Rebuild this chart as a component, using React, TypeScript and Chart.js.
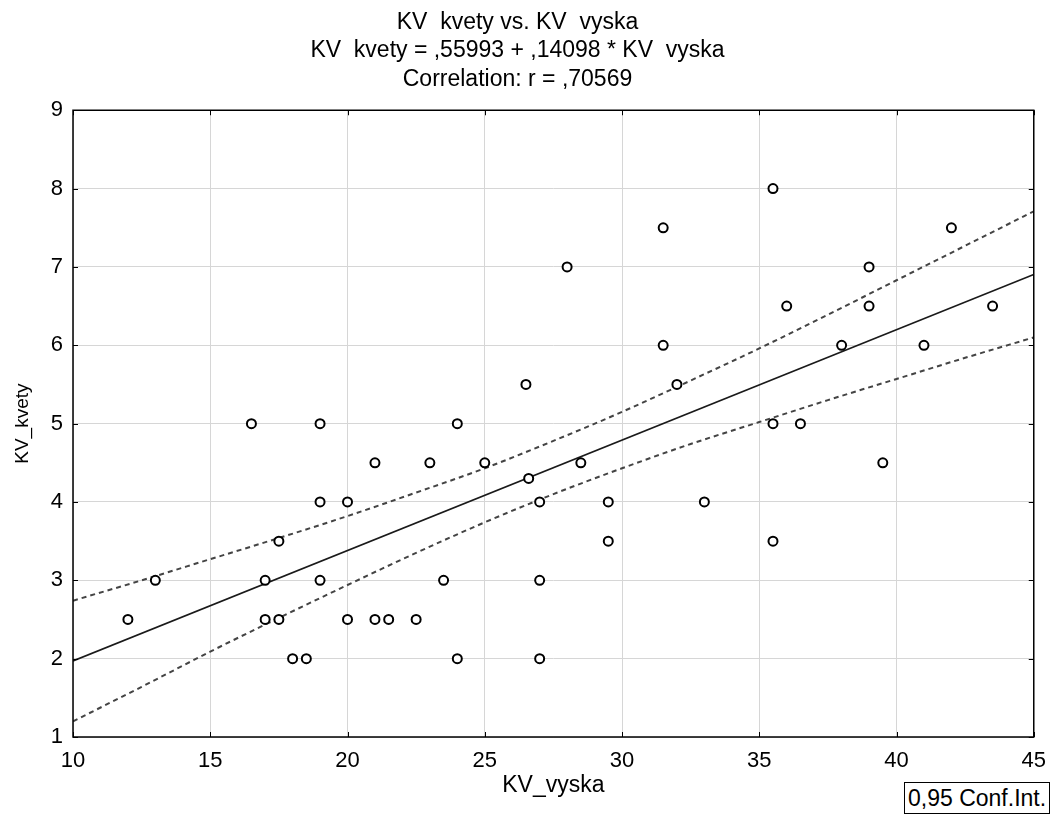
import React, { useEffect, useRef } from "react";
import { Chart, registerables } from "chart.js";

Chart.register(...registerables);

// Observations: KV_vyska (x) and KV_kvety (y)
const vyska = [
  12, 13, 16.5, 17, 17, 17.5, 17.5, 18, 18.5, 19, 19, 19, 20, 20, 21, 21, 21.5, 22.5,
  23, 23.5, 24, 24, 25, 26.5, 26.6, 27, 27, 27, 28, 28.5, 29.5, 29.5, 31.5, 31.5, 32,
  33, 35.5, 35.5, 35.5, 36, 36.5, 38, 39, 39, 39.5, 41, 42, 43.5,
];
const kvety = [
  2.5, 3, 5, 3, 2.5, 3.5, 2.5, 2, 2, 5, 4, 3, 4, 2.5, 4.5, 2.5, 2.5, 2.5,
  4.5, 3, 5, 2, 4.5, 5.5, 4.3, 4, 3, 2, 7, 4.5, 4, 3.5, 7.5, 6, 5.5,
  4, 8, 5, 3.5, 6.5, 5, 6, 7, 6.5, 4.5, 6, 7.5, 6.5,
];

// Fitted regression: KV_kvety = ,55993 + ,14098 * KV_vyska
const INTERCEPT = 0.55993;
const SLOPE = 0.14098;
const FIT_X = [10, 45];

// 95% confidence band of the fitted mean
const bandX = [10, 12.5, 15, 17.5, 20, 22.5, 25, 27.5, 30, 32.5, 35, 37.5, 40, 42.5, 45];
const bandUpper = [2.74, 3.0, 3.27, 3.54, 3.82, 4.12, 4.43, 4.78, 5.15, 5.55, 5.96, 6.39, 6.83, 7.27, 7.71];
const bandLower = [1.2, 1.64, 2.09, 2.52, 2.94, 3.35, 3.74, 4.1, 4.43, 4.74, 5.02, 5.3, 5.57, 5.84, 6.1];

const titleLines = [
  "KV  kvety vs. KV  vyska",
  "KV  kvety = ,55993 + ,14098 * KV  vyska",
  "Correlation: r = ,70569",
];

const FONT = "'Liberation Sans', Arial, sans-serif";

// Frame around the plot area plus short inward tick marks
const framePlugin = {
  id: "frame",
  afterDatasetsDraw(chart: any) {
    const { ctx, chartArea: a, scales } = chart;
    ctx.save();
    ctx.strokeStyle = "#000";
    ctx.lineWidth = 1;
    const len = 5;
    ctx.beginPath();
    scales.x.ticks.forEach((t: any) => {
      const px = Math.round(scales.x.getPixelForValue(t.value)) + 0.5;
      ctx.moveTo(px, a.bottom);
      ctx.lineTo(px, a.bottom - len);
      ctx.moveTo(px, a.top);
      ctx.lineTo(px, a.top + len);
    });
    scales.y.ticks.forEach((t: any) => {
      const py = Math.round(scales.y.getPixelForValue(t.value)) + 0.5;
      ctx.moveTo(a.left, py);
      ctx.lineTo(a.left + len, py);
      ctx.moveTo(a.right, py);
      ctx.lineTo(a.right - len, py);
    });
    ctx.stroke();
    ctx.lineWidth = 1.5;
    ctx.strokeRect(a.left, a.top, a.right - a.left, a.bottom - a.top);
    ctx.restore();
  },
};

export default function App() {
  const canvasRef = useRef<HTMLCanvasElement | null>(null);

  useEffect(() => {
    document.body.style.margin = "0";
    const canvas = canvasRef.current;
    if (!canvas) return;

    const points = vyska.map((x, i) => ({ x, y: kvety[i] }));
    const fit = FIT_X.map((x) => ({ x, y: INTERCEPT + SLOPE * x }));
    const upper = bandX.map((x, i) => ({ x, y: bandUpper[i] }));
    const lower = bandX.map((x, i) => ({ x, y: bandLower[i] }));

    const chart = new Chart(canvas, {
      type: "scatter",
      data: {
        datasets: [
          {
            label: "KV_kvety",
            data: points,
            pointStyle: "circle",
            pointRadius: 4.5,
            pointBorderWidth: 2,
            pointBorderColor: "#000",
            pointBackgroundColor: "#fff",
            showLine: false,
          },
          {
            label: "Fit",
            type: "line",
            data: fit,
            borderColor: "#1a1a1a",
            borderWidth: 1.7,
            pointRadius: 0,
            fill: false,
          },
          {
            label: "Upper 95%",
            type: "line",
            data: upper,
            borderColor: "#444",
            borderWidth: 2,
            borderDash: [5, 4],
            pointRadius: 0,
            cubicInterpolationMode: "monotone",
            fill: false,
          },
          {
            label: "Lower 95%",
            type: "line",
            data: lower,
            borderColor: "#444",
            borderWidth: 2,
            borderDash: [5, 4],
            pointRadius: 0,
            cubicInterpolationMode: "monotone",
            fill: false,
          },
        ],
      },
      options: {
        animation: false,
        responsive: false,
        maintainAspectRatio: false,
        layout: { padding: { left: 0, right: 22, top: 0, bottom: 0 } },
        plugins: {
          legend: { display: false },
          tooltip: { enabled: false },
          title: {
            display: true,
            text: titleLines,
            color: "#000",
            font: { family: FONT, size: 23, weight: "normal", lineHeight: 1.25 },
            padding: { top: 8, bottom: 16 },
          },
        },
        scales: {
          x: {
            type: "linear",
            min: 10,
            max: 45,
            ticks: {
              stepSize: 5,
              color: "#000",
              padding: 11,
              font: { family: FONT, size: 22 },
            },
            grid: { color: "#d6d6d6", lineWidth: 1, drawTicks: false },
            border: { display: false },
            title: {
              display: true,
              text: "KV_vyska",
              color: "#000",
              font: { family: FONT, size: 23 },
              padding: { top: 0, bottom: 16 },
            },
            afterFit: (scale: any) => {
              scale.height = 78;
            },
          },
          y: {
            type: "linear",
            min: 1,
            max: 9,
            ticks: {
              stepSize: 1,
              color: "#000",
              padding: 10,
              font: { family: FONT, size: 22 },
            },
            grid: { color: "#d6d6d6", lineWidth: 1, drawTicks: false },
            border: { display: false },
            title: {
              display: true,
              text: "KV_kvety",
              color: "#000",
              font: { family: FONT, size: 19 },
              padding: { top: 11, bottom: 0 },
            },
            afterFit: (scale: any) => {
              scale.width = 73;
            },
          },
        },
      },
      plugins: [framePlugin],
    });

    return () => chart.destroy();
  }, []);

  return (
    <div style={{ position: "relative", width: 1057, height: 815, background: "#fff" }}>
      <canvas ref={canvasRef} width={1057} height={815} style={{ display: "block" }} />
      <div
        style={{
          position: "absolute",
          left: 904,
          top: 782,
          width: 146,
          height: 32,
          border: "1px solid #000",
          boxSizing: "border-box",
          fontFamily: FONT,
          fontSize: 23,
          lineHeight: "30px",
          paddingLeft: 3,
          color: "#000",
          background: "#fff",
          whiteSpace: "nowrap",
          overflow: "hidden",
        }}
      >
        0,95 Conf.Int.
      </div>
    </div>
  );
}
